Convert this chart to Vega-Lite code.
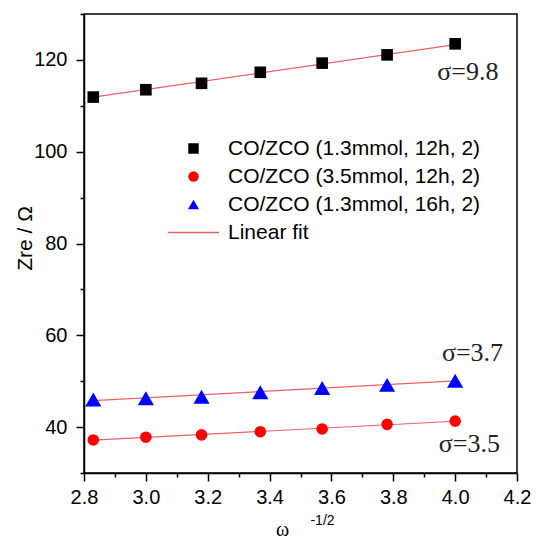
{
  "$schema": "https://vega.github.io/schema/vega-lite/v6.json",
  "width": 433,
  "height": 459,
  "autosize": {"type": "none"},
  "padding": {"left": 84, "top": 14, "right": 20, "bottom": 66},
  "background": "white",
  "config": {
    "view": {"stroke": "black", "strokeWidth": 1.5},
    "axis": {
      "labelFont": "Liberation Sans",
      "titleFont": "Liberation Sans",
      "labelColor": "black",
      "titleColor": "black",
      "domainColor": "black",
      "tickColor": "black",
      "grid": false,
      "titleFontWeight": "normal",
      "tickWidth": 1.5,
      "domainWidth": 1.5
    }
  },
  "resolve": {"axis": {"x": "independent", "y": "independent"}},
  "datasets": {
    "pts": [
      {"x": 2.83, "y": 111.9, "s": "CO/ZCO (1.3mmol, 12h, 2)"},
      {"x": 3.0, "y": 113.5, "s": "CO/ZCO (1.3mmol, 12h, 2)"},
      {"x": 3.18, "y": 114.9, "s": "CO/ZCO (1.3mmol, 12h, 2)"},
      {"x": 3.37, "y": 117.3, "s": "CO/ZCO (1.3mmol, 12h, 2)"},
      {"x": 3.57, "y": 119.3, "s": "CO/ZCO (1.3mmol, 12h, 2)"},
      {"x": 3.78, "y": 121.1, "s": "CO/ZCO (1.3mmol, 12h, 2)"},
      {"x": 4.0, "y": 123.5, "s": "CO/ZCO (1.3mmol, 12h, 2)"},
      {"x": 2.83, "y": 37.2, "s": "CO/ZCO (3.5mmol, 12h, 2)"},
      {"x": 3.0, "y": 37.8, "s": "CO/ZCO (3.5mmol, 12h, 2)"},
      {"x": 3.18, "y": 38.3, "s": "CO/ZCO (3.5mmol, 12h, 2)"},
      {"x": 3.37, "y": 39.0, "s": "CO/ZCO (3.5mmol, 12h, 2)"},
      {"x": 3.57, "y": 39.6, "s": "CO/ZCO (3.5mmol, 12h, 2)"},
      {"x": 3.78, "y": 40.6, "s": "CO/ZCO (3.5mmol, 12h, 2)"},
      {"x": 4.0, "y": 41.3, "s": "CO/ZCO (3.5mmol, 12h, 2)"},
      {"x": 2.83, "y": 46.0, "s": "CO/ZCO (1.3mmol, 16h, 2)"},
      {"x": 3.0, "y": 46.3, "s": "CO/ZCO (1.3mmol, 16h, 2)"},
      {"x": 3.18, "y": 46.6, "s": "CO/ZCO (1.3mmol, 16h, 2)"},
      {"x": 3.37, "y": 47.6, "s": "CO/ZCO (1.3mmol, 16h, 2)"},
      {"x": 3.57, "y": 48.5, "s": "CO/ZCO (1.3mmol, 16h, 2)"},
      {"x": 3.78, "y": 49.2, "s": "CO/ZCO (1.3mmol, 16h, 2)"},
      {"x": 4.0, "y": 50.1, "s": "CO/ZCO (1.3mmol, 16h, 2)"}
    ],
    "fit": [
      {"x": 2.83, "y": 111.87, "s": "Linear fit", "g": "a"},
      {"x": 4.0, "y": 123.34, "s": "Linear fit", "g": "a"},
      {"x": 2.83, "y": 37.17, "s": "Linear fit", "g": "b"},
      {"x": 4.0, "y": 41.27, "s": "Linear fit", "g": "b"},
      {"x": 2.83, "y": 45.75, "s": "Linear fit", "g": "c"},
      {"x": 4.0, "y": 50.05, "s": "Linear fit", "g": "c"}
    ]
  },
  "layer": [
    {
      "data": {"name": "fit"},
      "mark": {"type": "line", "strokeWidth": 1.2},
      "encoding": {
        "x": {
          "field": "x", "type": "quantitative",
          "scale": {"domain": [2.8, 4.2], "nice": false, "zero": false},
          "axis": {
            "orient": "bottom",
            "values": [2.8, 3.0, 3.2, 3.4, 3.6, 3.8, 4.0, 4.2],
            "format": ".1f", "tickSize": 8, "labelFontSize": 20, "labelPadding": 6,
            "labelFlush": false, "labelOverlap": false,
            "title": "ω", "titleFont": "Liberation Serif", "titleFontSize": 20,
            "titleX": 198, "titleY": 62, "titleBaseline": "alphabetic", "titleAlign": "center"
          }
        },
        "y": {
          "field": "y", "type": "quantitative",
          "scale": {"domain": [30, 130], "nice": false, "zero": false},
          "axis": {
            "orient": "left",
            "values": [40, 60, 80, 100, 120],
            "tickSize": 8, "labelFontSize": 20, "labelPadding": 9,
            "labelFlush": false, "labelOverlap": false,
            "title": "Zre / Ω", "titleFontSize": 21,
            "titleX": -53, "titleY": 224, "titleAngle": -90, "titleBaseline": "alphabetic", "titleAlign": "center"
          }
        },
        "color": {
          "field": "s", "type": "nominal",
          "scale": {
            "domain": ["CO/ZCO (1.3mmol, 12h, 2)", "CO/ZCO (3.5mmol, 12h, 2)", "CO/ZCO (1.3mmol, 16h, 2)", "Linear fit"],
            "range": ["#000000", "#ff0000", "#0000ff", "#e8606a"]
          },
          "legend": {
            "title": null, "orient": "none", "legendX": 99, "legendY": 124,
            "labelFont": "Liberation Sans", "labelFontSize": 21, "labelColor": "black",
            "labelOffset": 24, "rowPadding": 6, "labelLimit": 400,
            "encode": {
              "symbols": {
                "update": {
                  "fill": {"signal": "datum.value === 'Linear fit' ? 'transparent' : scale('color', datum.value)"},
                  "stroke": {"signal": "scale('color', datum.value)"},
                  "strokeWidth": {"signal": "datum.value === 'Linear fit' ? 1.3 : 0"},
                  "size": {"signal": "datum.value === 'Linear fit' ? 2601 : (datum.value === 'CO/ZCO (1.3mmol, 16h, 2)' ? 125 : 110)"},
                  "shape": {"signal": "scale('shape', datum.value)"},
                  "opacity": {"value": 1}
                }
              }
            }
          }
        },
        "detail": {"field": "g"}
      }
    },
    {
      "data": {"name": "pts"},
      "mark": {"type": "point", "filled": true, "opacity": 1},
      "encoding": {
        "x": {
          "field": "x", "type": "quantitative",
          "axis": {
            "orient": "bottom",
            "values": [2.9, 3.1, 3.3, 3.5, 3.7, 3.9, 4.1],
            "labels": false, "tickSize": 4, "domain": false,
            "title": "-1/2", "titleFontSize": 14,
            "titleX": 238, "titleY": 51, "titleBaseline": "alphabetic", "titleAlign": "center"
          }
        },
        "y": {
          "field": "y", "type": "quantitative",
          "axis": {
            "orient": "left",
            "values": [30, 50, 70, 90, 110, 130],
            "labels": false, "tickSize": 4, "domain": false, "title": null
          }
        },
        "color": {
          "field": "s", "type": "nominal",
          "scale": {
            "domain": ["CO/ZCO (1.3mmol, 12h, 2)", "CO/ZCO (3.5mmol, 12h, 2)", "CO/ZCO (1.3mmol, 16h, 2)", "Linear fit"],
            "range": ["#000000", "#ff0000", "#0000ff", "#e8606a"]
          }
        },
        "shape": {
          "field": "s", "type": "nominal",
          "scale": {
            "domain": ["CO/ZCO (1.3mmol, 12h, 2)", "CO/ZCO (3.5mmol, 12h, 2)", "CO/ZCO (1.3mmol, 16h, 2)", "Linear fit"],
            "range": ["square", "circle", "triangle-up", "stroke"]
          }
        },
        "size": {
          "condition": {"test": "datum.s === 'CO/ZCO (1.3mmol, 16h, 2)'", "value": 260},
          "value": 135
        }
      }
    },
    {
      "data": {"values": [{}]},
      "mark": {"type": "text", "font": "Liberation Serif", "fontSize": 26, "align": "right", "baseline": "alphabetic", "color": "#222"},
      "encoding": {
        "x": {"datum": 4.14, "type": "quantitative", "axis": null},
        "y": {"datum": 115.6, "type": "quantitative", "axis": null},
        "text": {"value": "σ=9.8"}
      }
    },
    {
      "data": {"values": [{}]},
      "mark": {"type": "text", "font": "Liberation Serif", "fontSize": 26, "align": "right", "baseline": "alphabetic", "color": "#222"},
      "encoding": {
        "x": {"datum": 4.155, "type": "quantitative", "axis": null},
        "y": {"datum": 54.5, "type": "quantitative", "axis": null},
        "text": {"value": "σ=3.7"}
      }
    },
    {
      "data": {"values": [{}]},
      "mark": {"type": "text", "font": "Liberation Serif", "fontSize": 26, "align": "right", "baseline": "alphabetic", "color": "#222"},
      "encoding": {
        "x": {"datum": 4.145, "type": "quantitative", "axis": null},
        "y": {"datum": 34.6, "type": "quantitative", "axis": null},
        "text": {"value": "σ=3.5"}
      }
    }
  ]
}
